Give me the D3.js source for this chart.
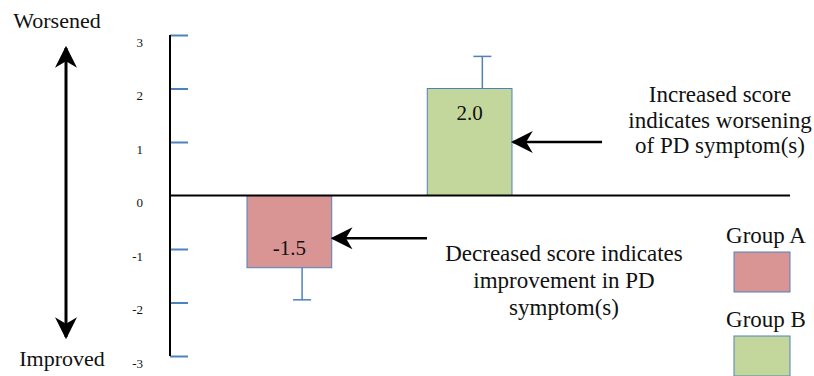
<!DOCTYPE html>
<html>
<head>
<meta charset="utf-8">
<script src="https://cdn.jsdelivr.net/npm/d3@7"></script>
<style>
  body { margin: 0; background: #fff; }
  svg text { fill: #111; }
</style>
</head>
<body>
<div id="chart"></div>
<script>
// change in symptom score, per group
const groups = ["Group A", "Group B"];
const means = [-1.35, 2.0];
const meanLabels = ["-1.5", "2.0"];
const errors = [0.6, 0.6];
const colors = ["#d99594", "#c3d69b"];
const yTicks = [-3, -2, -1, 0, 1, 2, 3];
const notes = [
  ["Decreased score indicates", "improvement in PD", "symptom(s)"],
  ["Increased score", "indicates worsening", "of PD symptom(s)"],
];
const notePoints = [-0.8, 1];

const width = 814;
const height = 376;
const blue = "#4f81bd";
const serif = "'Liberation Serif', 'Times New Roman', serif";

const svg = d3
  .select("#chart")
  .append("svg")
  .attr("width", width)
  .attr("height", height)
  .attr("font-family", serif);

const defs = svg.append("defs");
defs
  .append("marker")
  .attr("id", "head")
  .attr("viewBox", "0 0 10 10")
  .attr("refX", 9)
  .attr("refY", 5)
  .attr("markerUnits", "userSpaceOnUse")
  .attr("markerWidth", 22)
  .attr("markerHeight", 22)
  .attr("orient", "auto-start-reverse")
  .append("path")
  .attr("d", "M0,0 L10,5 L0,10 L3,5 Z")
  .attr("fill", "#000");

const y = d3.scaleLinear().domain([-3, 3]).range([356, 35]);
const x = d3.scaleBand().domain(groups).range([247, 512]).paddingInner(0.53);

const axisX = 170;

// blue tick marks
svg
  .append("g")
  .attr("transform", `translate(${axisX},0)`)
  .call(d3.axisRight(y).tickValues(yTicks.filter((d) => d !== 0)).tickSize(18).tickFormat(""))
  .call((g) => g.select(".domain").remove())
  .call((g) => g.selectAll("line").attr("stroke", blue).attr("stroke-width", 2));

// tick labels
svg
  .append("g")
  .attr("transform", `translate(${axisX},0)`)
  .call(d3.axisLeft(y).tickValues(yTicks).tickSize(0).tickPadding(27).tickFormat((d) => String(d)))
  .attr("font-family", serif)
  .call((g) => g.select(".domain").remove())
  .call((g) =>
    g
      .selectAll("text")
      .attr("dy", "0.85em")
      .attr("font-size", 13)
      .attr("fill", "#111")
  );

// axis line
svg
  .append("line")
  .attr("x1", axisX)
  .attr("x2", axisX)
  .attr("y1", y(-3))
  .attr("y2", y(3))
  .attr("stroke", "#000")
  .attr("stroke-width", 2);

// bars
svg
  .selectAll(".bar")
  .data(groups)
  .join("rect")
  .attr("class", "bar")
  .attr("x", (d) => x(d))
  .attr("y", (d, i) => y(Math.max(0, means[i])))
  .attr("width", x.bandwidth())
  .attr("height", (d, i) => Math.abs(y(means[i]) - y(0)))
  .attr("fill", (d, i) => colors[i])
  .attr("stroke", blue)
  .attr("stroke-width", 1);

// error bars (one-sided, away from zero)
const errX = (d) => x(d) + x.bandwidth() * 0.65;
const errEnd = (i) => means[i] + Math.sign(means[i]) * errors[i];
const err = svg.selectAll(".err").data(groups).join("g").attr("class", "err");
err
  .append("line")
  .attr("x1", errX)
  .attr("x2", errX)
  .attr("y1", (d, i) => y(means[i]))
  .attr("y2", (d, i) => y(errEnd(i)))
  .attr("stroke", blue)
  .attr("stroke-width", 1.5);
err
  .append("line")
  .attr("x1", (d) => errX(d) - 9)
  .attr("x2", (d) => errX(d) + 9)
  .attr("y1", (d, i) => y(errEnd(i)))
  .attr("y2", (d, i) => y(errEnd(i)))
  .attr("stroke", blue)
  .attr("stroke-width", 1.5);

// zero line
svg
  .append("line")
  .attr("x1", axisX)
  .attr("x2", 790)
  .attr("y1", y(0))
  .attr("y2", y(0))
  .attr("stroke", "#000")
  .attr("stroke-width", 2);

// value labels
svg
  .selectAll(".val")
  .data(groups)
  .join("text")
  .attr("class", "val")
  .attr("x", (d) => x(d) + x.bandwidth() / 2)
  .attr("y", (d, i) => (means[i] < 0 ? y(means[i]) - 13 : y(means[i]) + 31))
  .attr("text-anchor", "middle")
  .attr("font-size", 21)
  .text((d, i) => meanLabels[i]);

// annotation arrows
const arrowStart = [427, 602];
svg
  .selectAll(".note-arrow")
  .data(groups)
  .join("line")
  .attr("class", "note-arrow")
  .attr("x1", (d, i) => arrowStart[i])
  .attr("x2", (d) => x(d) + x.bandwidth() + 1)
  .attr("y1", (d, i) => y(notePoints[i]))
  .attr("y2", (d, i) => y(notePoints[i]))
  .attr("stroke", "#000")
  .attr("stroke-width", 2.5)
  .attr("marker-end", "url(#head)");

// annotation text
const noteX = [564, 720];
const noteY = [261, 102];
const noteGap = [27, 25.5];
notes.forEach((lines, i) => {
  svg
    .append("text")
    .attr("text-anchor", "middle")
    .attr("font-size", 23)
    .selectAll("tspan")
    .data(lines)
    .join("tspan")
    .attr("x", noteX[i])
    .attr("y", (d, j) => noteY[i] + j * noteGap[i])
    .text((d) => d);
});

// worsened / improved double arrow
svg
  .append("line")
  .attr("x1", 66)
  .attr("x2", 66)
  .attr("y1", 48)
  .attr("y2", 337)
  .attr("stroke", "#000")
  .attr("stroke-width", 3)
  .attr("marker-start", "url(#head)")
  .attr("marker-end", "url(#head)");

svg.append("text").attr("x", 57).attr("y", 28).attr("text-anchor", "middle").attr("font-size", 22).text("Worsened");
svg.append("text").attr("x", 62).attr("y", 366).attr("text-anchor", "middle").attr("font-size", 22).text("Improved");

// legend
const legend = svg
  .selectAll(".legend")
  .data(groups)
  .join("g")
  .attr("class", "legend")
  .attr("transform", (d, i) => `translate(0,${i * 84})`);
legend
  .append("text")
  .attr("x", 766)
  .attr("y", 243)
  .attr("text-anchor", "middle")
  .attr("font-size", 23)
  .text((d) => d);
legend
  .append("rect")
  .attr("x", 734)
  .attr("y", 252)
  .attr("width", 56)
  .attr("height", 40)
  .attr("fill", (d, i) => colors[i])
  .attr("stroke", blue)
  .attr("stroke-width", 1);
</script>
</body>
</html>
